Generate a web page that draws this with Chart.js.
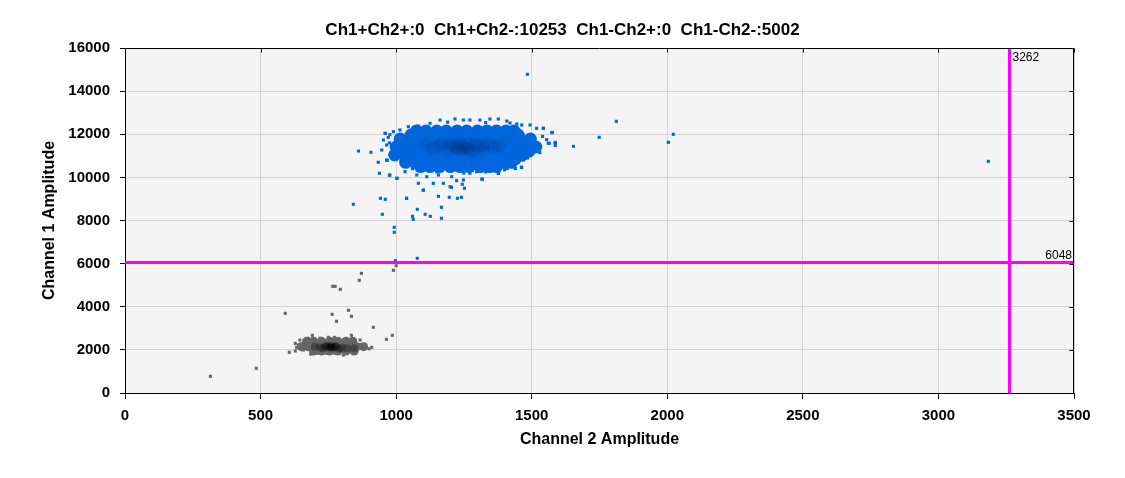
<!DOCTYPE html>
<html>
<head>
<meta charset="utf-8">
<script src="https://cdn.jsdelivr.net/npm/chart.js@4.4.0/dist/chart.umd.min.js"></script>
<style>
  html, body { margin: 0; padding: 0; background: #fff; }
  #wrap { width: 1125px; height: 478px; }
</style>
</head>
<body>
<div id="wrap"><canvas id="ddpcr" width="1125" height="478"></canvas></div>
<script>
  // labels
  const chartTitle = 'Ch1+Ch2+:0  Ch1+Ch2-:10253  Ch1-Ch2+:0  Ch1-Ch2-:5002';
  const xAxisTitle = 'Channel 2 Amplitude';
  const yAxisTitle = 'Channel 1 Amplitude';
  const xTickValues = [0, 500, 1000, 1500, 2000, 2500, 3000, 3500];
  const yTickValues = [0, 2000, 4000, 6000, 8000, 10000, 12000, 14000, 16000];

  // gate thresholds
  const ch2Threshold = 3262;
  const ch1Threshold = 6048;

  // Ch1+Ch2- droplets (blue), [ch2, ch1]
  const blueCore = [
    [1075,12150],[1110,12150],[1150,12150],[1185,12150],[1225,12150],[1260,12150],[1300,12150],[1335,12150],[1370,12150],[1405,12150],[1435,12150],
    [1015,11780],[1050,11780],[1090,11780],[1125,11780],[1160,11780],[1200,11780],[1235,11780],[1270,11780],[1310,11780],[1345,11780],[1380,11780],[1420,11780],[1455,11780],[1495,11780],
    [1000,11410],[1035,11410],[1075,11410],[1110,11410],[1150,11410],[1185,11410],[1220,11410],[1260,11410],[1295,11410],[1330,11410],[1370,11410],[1405,11410],[1440,11410],[1480,11410],[1515,11410],
    [995,11040],[1030,11040],[1070,11040],[1105,11040],[1140,11040],[1180,11040],[1215,11040],[1250,11040],[1290,11040],[1325,11040],[1360,11040],[1400,11040],[1435,11040],[1465,11040],
    [1035,10700],[1070,10700],[1110,10700],[1145,10700],[1180,10700],[1220,10700],[1255,10700],[1290,10700],[1330,10700],[1365,10700],[1400,10700],[1425,10700],
    [1090,10500],[1125,10500],[1160,10500],[1200,10500],[1235,10500],[1270,10500],[1310,10500],[1345,10500],[1370,10500],
    [1055,11960],[1130,11960],[1210,11960],[1290,11960],[1370,11960],[1450,11960],
    [1020,11220],[1100,11220],[1180,11220],[1260,11220],[1340,11220],[1420,11220],[1490,11220],
    [1060,10870],[1140,10870],[1220,10870],[1300,10870],[1380,10870],[1440,10870]
  ];
  const blueDense = [
    [1110,11500],[1140,11350],[1170,11600],[1190,11300],[1210,11450],[1230,11650],[1240,11250],
    [1250,11400],[1270,11550],[1280,11200],[1300,11450],[1320,11300],[1340,11600],[1360,11400],
    [1380,11500],[1220,11400],[1260,11350],[1290,11500],[1200,11550],[1320,11500],[1160,11450],
    [1240,11500],[1270,11300],[1230,11350]
  ];
  const blueEdge = [
    [1162,12660],[1217,12707],[1248,12660],[1272,12660],[1309,12660],[1346,12707],[1377,12707],[1408,12614],
    [1445,12475],[1463,12429],[1494,12429],[1518,12275],[1543,12275],[1574,12072],[1586,11580],[1561,11580],
    [1531,11423],[1500,11116],[1469,10806],[1463,10467],[1438,10421],[1408,10467],[1377,10189],[1346,10342],
    [1316,9924],[1272,10189],[1248,9878],[1223,9846],[1199,9568],[1174,9725],[1137,9725],[1100,9414],
    [1082,9725],[1039,9029],[1002,9957],[977,10110],[965,10806],[947,11269],[965,11501],[959,12044],
    [990,12118],[1014,12197],[1045,12350],[1082,12382],[1125,12507],[1033,10263],[1076,10110],[1113,10031],
    [1156,10110],[1205,10031],[1297,10263],[1432,10574],[977,11037],[953,11733],
    [1190,12560],[1330,12540],[1420,12520],[1540,11900],[1555,11750],[1530,11150],[1485,10900],
    [1060,10400],[1150,10250],[1250,10200],[1330,10250],[1400,10350],[975,11600],[985,11150]
  ];
  const blueOutliers = [
    [1484,14780],[1812,12600],[1749,11858],[1654,11441],[2022,11998],[2004,11627],[861,11223],[907,11163],
    [842,8752],[942,9030],[960,8983],[949,8288],[993,7685],[993,7453],[1038,9030],[1078,8520],[1060,8195],
    [1063,8056],[1107,8288],[1126,8195],[1167,8613],[1167,8103],[1078,6247],[997,6137],[1156,9122],[1196,9076],
    [1226,9030],[1241,9076],[938,10190],[975,10097],[1004,9958],[1100,9400],[1204,9540],[1252,9494],[1244,9680],
    [1318,9912],[1377,10190],[934,10700],[967,10791],[960,12040],[971,11855],[1576,12086],[1587,11622],
    [1587,11483],[1543,12276],[1565,11580],[1521,11395],[1495,11070],[1462,10467],[1440,10421],[1410,10421],
    [3184,10745],[977,11980]
  ];

  // Ch1-Ch2- droplets (grey), [ch2, ch1]
  const greyCore = [
    [670,2400],[695,2400],[725,2400],[755,2400],[785,2400],[815,2400],[840,2400],
    [650,2150],[675,2150],[705,2150],[735,2150],[765,2150],[795,2150],[825,2150],[855,2150],[880,2150],
    [695,1950],[725,1950],[755,1950],[785,1950],[815,1950],[845,1950],
    [690,2270],[750,2270],[810,2270],[720,2050],[780,2050],[840,2050]
  ];
  const greyDense = [
    [700,2150],[720,2120],[740,2150],[760,2100],[780,2130],[800,2100],[820,2080],[845,2070],
    [745,2200],[775,2180],[760,2130],[730,2080],[790,2050],[750,2120],[770,2110],[760,2170]
  ];
  const greyEdge = [
    [628,2303],[645,2458],[676,2535],[691,2675],[719,2535],[750,2581],[772,2581],[805,2458],[836,2380],
    [867,2458],[891,2117],[910,2117],[854,1917],[805,1762],[775,1840],[744,1840],[707,1840],[685,1809],
    [658,1994],[633,2117],[900,2050],[870,2250],[660,2350],[640,2230]
  ];
  const greyOutliers = [
    [1000,5904],[990,5690],[872,5550],[864,5227],[766,4948],[775,4948],[794,4809],[591,3696],[824,3835],
    [764,3650],[835,3557],[780,3325],[916,3047],[835,2676],[986,2676],[964,2490],[606,1887],[628,1948],
    [484,1146],[315,774]
  ];

  const toXY = arr => arr.map(p => ({x: p[0], y: p[1]}));

  function dots(data, color) {
    return { data: toXY(data), pointStyle: 'rect', pointRadius: 2.2, pointBorderWidth: 0,
      backgroundColor: color, borderColor: color, showLine: false };
  }
  function blobs(data, color, r) {
    return { data: toXY(data), pointStyle: 'circle', pointRadius: r, pointBorderWidth: 0,
      backgroundColor: color, borderColor: color, showLine: false };
  }

  const plotDecor = {
    id: 'plotDecor',
    beforeDraw(chart) {
      const {ctx, chartArea: a} = chart;
      ctx.save();
      ctx.fillStyle = '#f4f4f4';
      ctx.fillRect(a.left, a.top, a.width, a.height);
      ctx.restore();
    },
    afterDatasetsDraw(chart) {
      const {ctx, chartArea: a, scales: {x, y}} = chart;
      ctx.save();
      // gate lines
      const tx = x.getPixelForValue(ch2Threshold);
      const ty = y.getPixelForValue(ch1Threshold);
      ctx.strokeStyle = '#ff00ff';
      ctx.lineWidth = 3;
      ctx.beginPath();
      ctx.moveTo(a.left, ty); ctx.lineTo(a.right, ty);
      ctx.moveTo(tx, a.top); ctx.lineTo(tx, a.bottom);
      ctx.stroke();
      ctx.fillStyle = '#000';
      ctx.font = '12px "Liberation Sans", Arial, sans-serif';
      ctx.textBaseline = 'middle';
      ctx.textAlign = 'left';
      ctx.fillText(String(ch2Threshold), tx + 3, a.top + 10);
      ctx.textAlign = 'right';
      ctx.fillText(String(ch1Threshold), a.right - 2, ty - 7);
      // top and right frame with inward ticks
      ctx.strokeStyle = '#000';
      ctx.lineWidth = 1;
      const t = Math.round(a.top) + 0.5, r = Math.round(a.right) - 0.5;
      ctx.beginPath();
      ctx.moveTo(a.left, t); ctx.lineTo(a.right, t);
      ctx.moveTo(r, a.top); ctx.lineTo(r, a.bottom);
      xTickValues.forEach(v => {
        const px = Math.round(x.getPixelForValue(v)) + 0.5;
        ctx.moveTo(px, t); ctx.lineTo(px, t + 4);
      });
      yTickValues.forEach(v => {
        const py = Math.round(y.getPixelForValue(v)) + 0.5;
        ctx.moveTo(r, py); ctx.lineTo(r - 4, py);
      });
      ctx.stroke();
      // title
      ctx.font = 'bold 17px "Liberation Sans", Arial, sans-serif';
      ctx.textAlign = 'center';
      ctx.textBaseline = 'middle';
      ctx.fillText(chartTitle, chart.width / 2, 30);
      ctx.restore();
    }
  };

  const tickFont = {family: '"Liberation Sans", Arial, sans-serif', weight: 'bold', size: 15};
  const titleFont = {family: '"Liberation Sans", Arial, sans-serif', weight: 'bold', size: 16};

  new Chart(document.getElementById('ddpcr'), {
    type: 'scatter',
    data: {
      datasets: [
        blobs(blueDense, 'rgba(0,40,100,0.11)', 7),
        blobs(greyDense, 'rgba(0,0,0,0.3)', 4),
        dots(blueOutliers, '#0066dd'),
        dots(greyOutliers, '#666666'),
        dots(blueEdge, '#0066dd'),
        dots(greyEdge, '#666666'),
        blobs(blueCore, '#0066dd', 6.5),
        blobs(greyCore, '#666666', 4.5)
      ]
    },
    options: {
      responsive: false,
      animation: false,
      devicePixelRatio: 1,
      layout: { padding: { left: 0, right: 51, top: 48, bottom: 0 } },
      plugins: { legend: { display: false }, tooltip: { enabled: false }, title: { display: false } },
      scales: {
        x: {
          type: 'linear', min: 0, max: 3500,
          afterBuildTicks: s => { s.ticks = xTickValues.map(v => ({value: v})); },
          afterFit: s => { s.height = 85; },
          ticks: { color: '#000', font: tickFont, padding: 8, maxRotation: 0, callback: v => String(v) },
          grid: { color: '#d3d3d3', tickColor: '#000', tickLength: 6 },
          border: { color: '#000', width: 1 },
          title: { display: true, text: xAxisTitle, color: '#000', font: titleFont, padding: { top: 0, bottom: 29 } }
        },
        y: {
          type: 'linear', min: 0, max: 16000,
          afterBuildTicks: s => { s.ticks = yTickValues.map(v => ({value: v})); },
          afterFit: s => { s.width = 125; },
          ticks: { color: '#000', font: tickFont, padding: 10, callback: v => String(v) },
          grid: { color: '#d3d3d3', tickColor: '#000', tickLength: 5 },
          border: { color: '#000', width: 1 },
          title: { display: true, text: yAxisTitle, color: '#000', font: titleFont, padding: { top: 40, bottom: 0 } }
        }
      }
    },
    plugins: [plotDecor]
  });
</script>
</body>
</html>
